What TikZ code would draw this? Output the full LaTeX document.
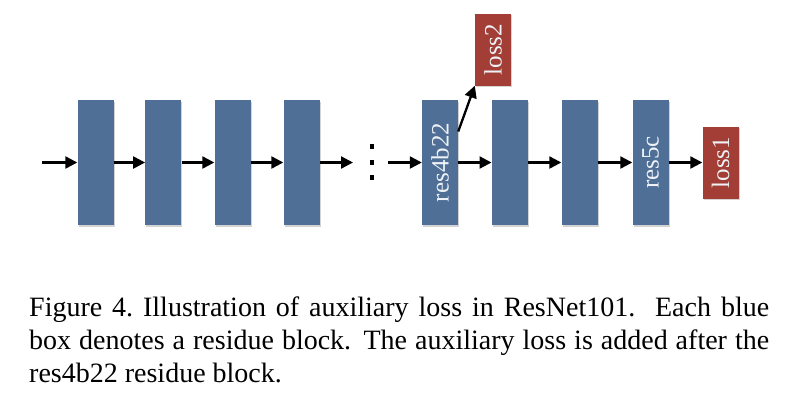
\documentclass[tikz,border=0pt]{standalone}
\usepackage{fontspec}
\setmainfont{Liberation Serif}
\usepackage{graphicx}
\usetikzlibrary{arrows.meta,shadows}
\definecolor{blk}{HTML}{4F6F96}
\definecolor{rbk}{HTML}{A23E36}
\definecolor{lbl}{HTML}{EEF2F6}
\tikzset{
  res/.style={rectangle, fill=blk, minimum width=36pt, minimum height=125pt, inner sep=0pt,
    drop shadow={shadow xshift=1pt, shadow yshift=-1.5pt, opacity=0.35},
    text=lbl, font=\fontsize{25}{25}\selectfont},
  lossbox/.style={rectangle, fill=rbk, minimum width=36pt, minimum height=72pt, inner sep=0pt,
    drop shadow={shadow xshift=1pt, shadow yshift=-1.5pt, opacity=0.35},
    text=lbl, font=\fontsize{25}{25}\selectfont},
  arr/.style={-{Triangle[length=12pt,width=12pt]}, line width=2.3pt},
  dotsq/.style={rectangle, fill=black, minimum size=4.5pt, inner sep=0pt},
}
\begin{document}
\begin{tikzpicture}[x=1pt,y=-1pt]
\useasboundingbox (0,0) rectangle (792,400);
\coordinate (in) at (42,162.5);
\node[res] (b1) at (95.5,162.5) {};
\node[res] (b2) at (163.3,162.5) {};
\node[res] (b3) at (232.5,162.5) {};
\node[res] (b4) at (301.5,162.5) {};
\coordinate (dend) at (353,162.5);
\node[dotsq] (d1) at (372,146.5) {};
\node[dotsq] (d2) at (372,162.3) {};
\node[dotsq] (d3) at (372,177.7) {};
\coordinate (dstart) at (388,162.5);
\node[res] (b5) at (440,162.5) {\rotatebox{90}{res4b22}};
\node[res] (b6) at (509.7,162.5) {};
\node[res] (b7) at (579.5,162.5) {};
\node[res] (b8) at (650.5,162.5) {\rotatebox{90}{res5c}};
\node[lossbox] (l1) at (720.5,162.5) {\rotatebox{90}{loss1}};
\node[lossbox] (l2) at (493,49.5) {\rotatebox{90}{loss2}};
\draw[arr] (in) -- (b1);
\draw[arr] (b1) -- (b2);
\draw[arr] (b2) -- (b3);
\draw[arr] (b3) -- (b4);
\draw[arr] (b4) -- (dend);
\draw[arr] (dstart) -- (b5);
\draw[arr] (b5) -- (b6);
\draw[arr] (b6) -- (b7);
\draw[arr] (b7) -- (b8);
\draw[arr] (b8) -- (l1);
\draw[arr] ([yshift=31pt]b5.east) -- (l2.south west);
\node[anchor=north west, inner sep=0pt, text width=740pt, align=justify,
  font=\fontsize{28}{33}\selectfont] (cap) at (29,297)
  {Figure 4.\ Illustration of auxiliary loss in ResNet101.\ \ Each blue\linebreak
   box denotes a residue block. The auxiliary loss is added after the\linebreak
   res4b22 residue block.};
\end{tikzpicture}
\end{document}
